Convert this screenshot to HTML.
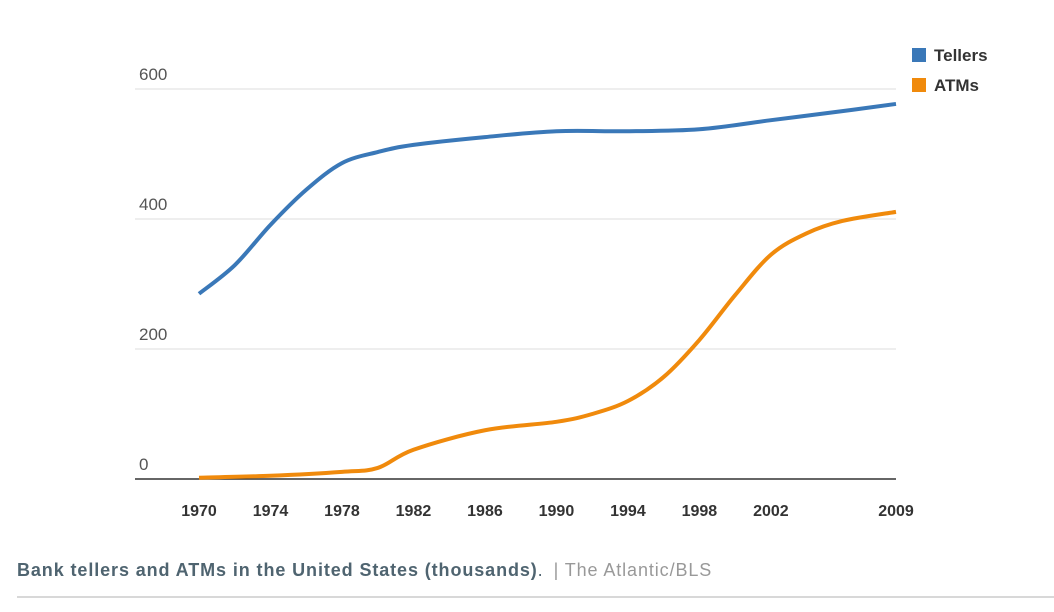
<!DOCTYPE html>
<html><head><meta charset="utf-8"><style>
body{margin:0;background:#fff;width:1054px;height:607px;overflow:hidden;font-family:"Liberation Sans",sans-serif}
svg text{font-family:"Liberation Sans",sans-serif}
</style></head><body>
<svg width="1054" height="607">
<g id="grid"></g>
<g id="series"></g>
<g>
<rect x="912" y="48" width="14" height="14" fill="#3a78b8"/>
<text x="934" y="61" font-size="17" font-weight="bold" fill="#333">Tellers</text>
<rect x="912" y="78" width="14" height="14" fill="#f08a0c"/>
<text x="934" y="91" font-size="17" font-weight="bold" fill="#333">ATMs</text>
</g>
<text x="17" y="576" font-size="18" font-weight="bold" fill="#4f6470" letter-spacing="0.9">Bank tellers and ATMs in the United States (thousands)<tspan font-weight="normal" fill="#4f6470">.</tspan><tspan font-weight="normal" fill="#999" dx="10">|  The Atlantic/BLS</tspan></text>
<line x1="17" y1="597" x2="1054" y2="597" stroke="#ccc" stroke-width="1.5"/>
</svg>
<script>
const yTicks=[0,200,400,600];
const xTickLabels=[1970,1974,1978,1982,1986,1990,1994,1998,2002,2009];
const tellerYears=[1970,1972,1974,1976,1978,1980,1982,1986,1990,1994,1998,2002,2006,2009];
const tellerValues=[285,329,391,445,486,503,514,526,535,535,538,552,566,577];
const atmYears=[1970,1974,1978,1980,1982,1986,1990,1992,1994,1996,1998,2000,2002,2004,2006,2009];
const atmValues=[2,5,11,17,45,75,88,100,120,157,214,283,345,378,397,411];
const NS="http://www.w3.org/2000/svg";
const X=y=>199+(y-1970)*(896-199)/39;
const Y=v=>479-v*0.65;
const grid=document.getElementById('grid');
yTicks.forEach(t=>{
 const l=document.createElementNS(NS,'line');
 l.setAttribute('x1',135);l.setAttribute('x2',896);l.setAttribute('y1',Y(t));l.setAttribute('y2',Y(t));
 l.setAttribute('stroke',t===0?'#333':'#ddd');l.setAttribute('stroke-width',t===0?1.5:1);
 
 
 grid.appendChild(l);
 const tx=document.createElementNS(NS,'text');
 tx.setAttribute('x',139);tx.setAttribute('y',Y(t)-9);tx.setAttribute('font-size',17);tx.setAttribute('fill','#555');
 tx.textContent=t;
 
 
 grid.appendChild(tx);
});
xTickLabels.forEach(t=>{
 const tx=document.createElementNS(NS,'text');
 tx.setAttribute('x',X(t));tx.setAttribute('y',516);tx.setAttribute('font-size',16);tx.setAttribute('font-weight','bold');
 tx.setAttribute('fill','#333');tx.setAttribute('text-anchor','middle');
 tx.textContent=t;
 
 
 grid.appendChild(tx);
});
function path(xs,vs){
 const p=xs.map((x,i)=>[X(x),Y(vs[i])]);
 let d='M'+p[0][0]+','+p[0][1];
 for(let i=0;i<p.length-1;i++){
  const p0=p[i-1]||p[i],p1=p[i],p2=p[i+1],p3=p[i+2]||p2;
  const c1=[p1[0]+(p2[0]-p0[0])/6,p1[1]+(p2[1]-p0[1])/6];
  const c2=[p2[0]-(p3[0]-p1[0])/6,p2[1]-(p3[1]-p1[1])/6];
  d+=`C${c1[0]},${c1[1]} ${c2[0]},${c2[1]} ${p2[0]},${p2[1]}`;
 }
 return d;
}
const s=document.getElementById('series');
[[tellerYears,tellerValues,'#3a78b8','line-tellers'],[atmYears,atmValues,'#f08a0c','line-atms']].forEach(([xs,vs,c,n])=>{
 const el=document.createElementNS(NS,'path');
 el.setAttribute('d',path(xs,vs));el.setAttribute('fill','none');el.setAttribute('stroke',c);el.setAttribute('stroke-width',4);
 
 
 s.appendChild(el);
});
</script>
</body></html>
